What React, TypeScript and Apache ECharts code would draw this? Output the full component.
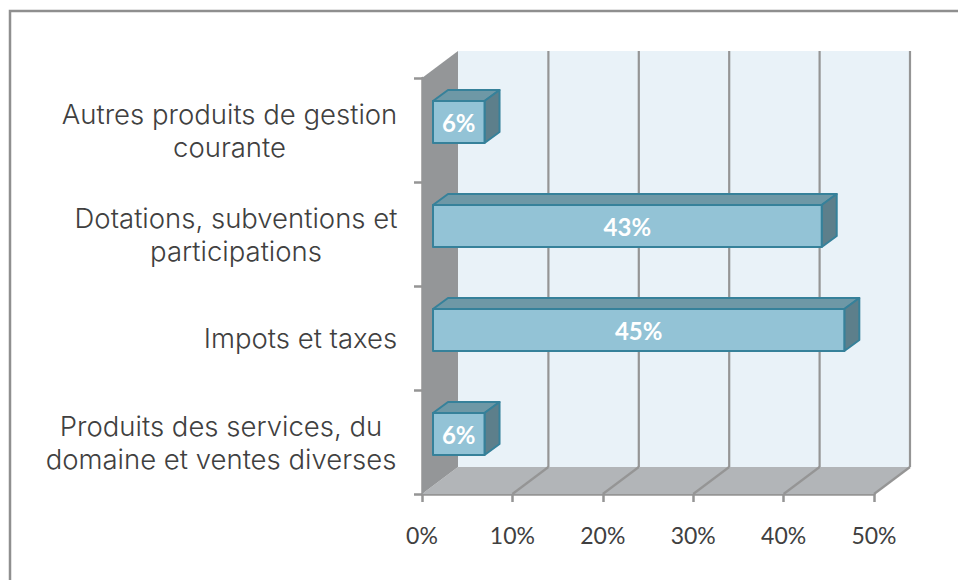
import React, { useEffect, useRef } from "react";
import * as echarts from "echarts";

const categories = [
  "Produits des services, du\ndomaine et ventes diverses",
  "Impots et taxes",
  "Dotations, subventions et\nparticipations",
  "Autres produits de gestion\ncourante",
];
const values = [5.7, 45.5, 43, 5.7];
const shownLabels = ["6%", "45%", "43%", "6%"];
const xTicks = [0, 10, 20, 30, 40, 50];

const DEPTH_X = 36;
const DEPTH_Y = 27;
const BAR_OFF_X = 11;
const BAR_OFF_Y = 8;
const BAR_SIZE_X = 15;
const BAR_SIZE_Y = 11;
const BAR_H = 42;

export default function App() {
  const ref = useRef<HTMLDivElement>(null);
  useEffect(() => {
    const chart = echarts.init(ref.current!, null, { renderer: "svg" });
    const line = "#959595";
    const pts = (a: number[][]) => a.map((p) => [p[0], p[1]]);
    chart.setOption({
      animation: false,
      backgroundColor: "#ffffff",
      grid: { left: 422, top: 78, width: 452, height: 416, containLabel: false },
      graphic: [
        {
          type: "rect",
          silent: true,
          z: -10,
          shape: { x: 10, y: 11, width: 1000, height: 640 },
          style: { fill: "#ffffff", stroke: "#8f8f8f", lineWidth: 2.5 },
        },
      ],
      xAxis: {
        type: "value",
        min: 0,
        max: 50,
        interval: 10,
        splitLine: { show: false },
        axisLine: { show: true, lineStyle: { color: line, width: 2.5 } },
        axisTick: { show: true, length: 8, lineStyle: { color: line, width: 2.5 } },
        axisLabel: {
          formatter: "{value}%",
          margin: 29,
          fontFamily: "Lato",
          fontSize: 23,
          color: "#404040",
        },
      },
      yAxis: {
        type: "category",
        data: categories,
        axisLine: { show: true, lineStyle: { color: line, width: 2.5 } },
        axisTick: { show: true, length: 8, lineStyle: { color: line, width: 2.5 } },
        axisLabel: {
          margin: 25,
          formatter: (v: string) => {
            const parts = v.split("\n");
            const style = ["w352", "w193", "w322", "w335"][categories.indexOf(v)];
            return parts.map((p) => `{${style}|${p}}`).join("\n");
          },
          rich: Object.fromEntries(
            [335, 193, 322, 352].map((w) => [
              `w${w}`,
              {
                width: w,
                align: "center",
                fontFamily: "Inter",
                fontWeight: 300,
                fontSize: 27.5,
                lineHeight: 33,
                color: "#404040",
              },
            ]),
          ),
        },
      },
      series: [
        {
          type: "custom",
          name: "walls",
          silent: true,
          z: 1,
          data: [xTicks],
          renderItem: (_p: any, api: any) => {
            const band = api.size([0, 1])[1];
            const o = api.coord([0, 0]);
            o[1] += band / 2;
            const e = [api.coord([50, 0])[0], o[1]];
            const t = api.coord([0, 3]);
            t[1] -= band / 2;
            const children: any[] = [
              {
                type: "polygon",
                shape: {
                  points: pts([
                    [o[0] + DEPTH_X, t[1] - DEPTH_Y],
                    [e[0] + DEPTH_X, t[1] - DEPTH_Y],
                    [e[0] + DEPTH_X, o[1] - DEPTH_Y],
                    [o[0] + DEPTH_X, o[1] - DEPTH_Y],
                  ]),
                },
                style: { fill: "#e9f2f8" },
              },
              {
                type: "polygon",
                shape: {
                  points: pts([
                    [o[0], o[1]],
                    [o[0] + DEPTH_X, o[1] - DEPTH_Y],
                    [e[0] + DEPTH_X, o[1] - DEPTH_Y],
                    [e[0], o[1]],
                  ]),
                },
                style: { fill: "#b2b5b8" },
              },
              {
                type: "polygon",
                shape: {
                  points: pts([
                    [o[0], o[1]],
                    [o[0] + DEPTH_X, o[1] - DEPTH_Y],
                    [t[0] + DEPTH_X, t[1] - DEPTH_Y],
                    [t[0], t[1]],
                  ]),
                },
                style: { fill: "#949698" },
              },
            ];
            xTicks.forEach((tick) => {
              const px = api.coord([tick, 0])[0];
              const top = t[1] - DEPTH_Y;
              const seg = (a: number[], b: number[]) => ({
                type: "line",
                shape: { x1: a[0], y1: a[1], x2: b[0], y2: b[1] },
                style: { stroke: line, lineWidth: 2.2 },
              });
              if (tick > 0) {
                children.push(seg([px + DEPTH_X, top], [px + DEPTH_X, o[1] - DEPTH_Y]));
                children.push(seg([px + DEPTH_X, o[1] - DEPTH_Y], [px, o[1]]));
              }
            });
            return { type: "group", children };
          },
        },
        {
          type: "custom",
          name: "bars",
          z: 2,
          encode: { x: 0, y: 1 },
          data: values.map((v, i) => [v, i, shownLabels[i]]),
          renderItem: (_p: any, api: any) => {
            const val = api.value(0);
            const idx = api.value(1);
            const c0 = api.coord([0, idx]);
            const c1 = api.coord([val, idx]);
            const x0 = c0[0] + BAR_OFF_X;
            const x1 = c1[0] + BAR_OFF_X;
            const cy = c0[1] - BAR_OFF_Y;
            const y0 = cy - BAR_H / 2;
            const y1 = cy + BAR_H / 2;
            const edge = { stroke: "#36819a", lineWidth: 2, lineJoin: "round" };
            return {
              type: "group",
              children: [
                {
                  type: "polygon",
                  shape: {
                    points: pts([
                      [x0, y0],
                      [x0 + BAR_SIZE_X, y0 - BAR_SIZE_Y],
                      [x1 + BAR_SIZE_X, y0 - BAR_SIZE_Y],
                      [x1, y0],
                    ]),
                  },
                  style: { fill: "#6e98a6", ...edge },
                },
                {
                  type: "polygon",
                  shape: {
                    points: pts([
                      [x1, y0],
                      [x1 + BAR_SIZE_X, y0 - BAR_SIZE_Y],
                      [x1 + BAR_SIZE_X, y1 - BAR_SIZE_Y],
                      [x1, y1],
                    ]),
                  },
                  style: { fill: "#5d7f8b", ...edge },
                },
                {
                  type: "rect",
                  shape: { x: x0, y: y0, width: x1 - x0, height: y1 - y0 },
                  style: { fill: "#93c3d6", ...edge },
                },
                {
                  type: "text",
                  style: {
                    x: (x0 + x1) / 2,
                    y: cy + 0.5,
                    text: api.value(2),
                    fill: "#ffffff",
                    fontFamily: "Lato",
                    fontWeight: "bold",
                    fontSize: 24,
                    align: "center",
                    verticalAlign: "middle",
                  },
                },
              ],
            };
          },
        },
      ],
    });
    return () => chart.dispose();
  }, []);
  return (
    <div
      ref={ref}
      style={{ position: "fixed", left: 0, top: 0, width: 958, height: 580 }}
    />
  );
}
